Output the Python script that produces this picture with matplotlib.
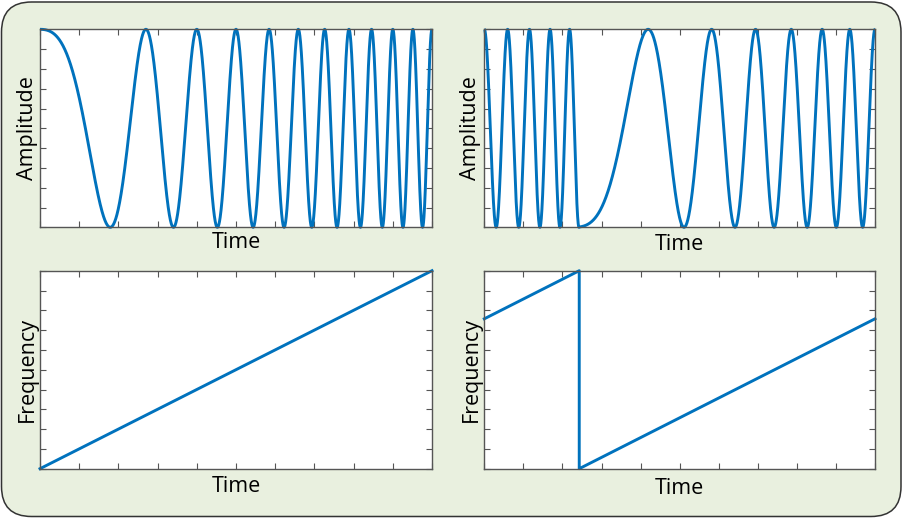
import numpy as np
import matplotlib
matplotlib.use("Agg")
import matplotlib.pyplot as plt
from matplotlib.patches import FancyBboxPatch

# ---- data ----
# frequency sweep (arbitrary units): linear chirp from f_low to f_high over time 0..1
f_low = 1.0
f_high = 21.0
t_reset = 0.243          # time at which the right-hand sweep wraps back to f_low

# left column: plain linear sweep
left_time = [0.0, 1.0]
left_freq = [1.0, 21.0]

# right column: the same sweep, frequency-wrapped
right_time = [0.0, 0.243, 0.243, 1.0]
right_freq = [16.14, 21.0, 1.0, 16.14]

x_label = "Time"
amp_label = "Amplitude"
freq_label = "Frequency"

line_color = "#0072BD"
spine_color = "#555555"
bg_color = "#E9F0DF"


def chirp_from_freq(times, freqs, n=6001):
    """cos(2*pi*integral f dt), phase accumulated segment by segment (exact for linear f)."""
    ts, ys = [], []
    phase = 0.0
    for i in range(len(times) - 1):
        t0, t1 = times[i], times[i + 1]
        f0, f1 = freqs[i], freqs[i + 1]
        if t1 <= t0:
            continue
        m = max(int(n * (t1 - t0)), 2)
        tt = np.linspace(t0, t1, m)
        slope = (f1 - f0) / (t1 - t0)
        ph = phase + f0 * (tt - t0) + 0.5 * slope * (tt - t0) ** 2
        ts.append(tt)
        ys.append(np.cos(2 * np.pi * ph))
        phase = ph[-1]
    return np.concatenate(ts), np.concatenate(ys)


plt.rcParams['font.family'] = ['Open Sans', 'DejaVu Sans']

W, H = 903, 518
fig = plt.figure(figsize=(W / 100, H / 100), dpi=100)
fig.patch.set_facecolor("white")

# rounded background panel (coordinates in inches = px/100)
bg = FancyBboxPatch((0.015, 0.015), (W - 3.5) / 100, (H - 3.5) / 100,
                    boxstyle="round,pad=0,rounding_size=0.30",
                    transform=fig.dpi_scale_trans, facecolor=bg_color,
                    edgecolor="#333333", linewidth=1.1, zorder=-5)
fig.patches.append(bg)


def px_axes(x0, y0, x1, y1):
    return fig.add_axes([x0 / W, (H - y1) / H, (x1 - x0) / W, (y1 - y0) / H])


axes_px = {
    "tl": (40, 29.3, 432, 227.3),
    "tr": (484.3, 29.3, 875, 227.3),
    "bl": (40, 270.7, 432, 468.7),
    "br": (484.3, 270.7, 875, 468.7),
}

FS = 15.5


def style(ax, xlab_base_px, ylab_base_px, ylabel, box):
    x0, y0, x1, y1 = box
    ax.set_facecolor("white")
    for s in ax.spines.values():
        s.set_color(spine_color)
        s.set_linewidth(1.0)
    ax.set_xlim(0, 1)
    ax.set_xticks(np.linspace(0, 1, 11))
    ax.tick_params(axis="both", which="both", direction="in", length=4,
                   width=0.8, color=spine_color, top=True, right=True,
                   labelbottom=False, labelleft=False)
    ax.set_xlabel(x_label, fontsize=FS, color="black")
    ax.xaxis.set_label_coords(0.5, (y1 - xlab_base_px) / (y1 - y0))
    ax.xaxis.label.set_verticalalignment("baseline")
    ax.set_ylabel(ylabel, fontsize=FS, color="black")
    ax.yaxis.set_label_coords((ylab_base_px - x0) / (x1 - x0), 0.5)
    ax.yaxis.label.set_verticalalignment("baseline")


# top-left amplitude
ax = px_axes(*axes_px["tl"])
t, y = chirp_from_freq(left_time, left_freq)
ax.plot(t, y, color=line_color, lw=2.1, clip_on=False, solid_capstyle="butt")
ax.set_ylim(-1, 1)
ax.set_yticks(np.linspace(-1, 1, 11))
style(ax, 248.3, 32.7, amp_label, axes_px["tl"])

# top-right amplitude
ax = px_axes(*axes_px["tr"])
t, y = chirp_from_freq(right_time, right_freq)
ax.plot(t, y, color=line_color, lw=2.1, clip_on=False, solid_capstyle="butt")
ax.set_ylim(-1, 1)
ax.set_yticks(np.linspace(-1, 1, 11))
style(ax, 250.5, 476.5, amp_label, axes_px["tr"])

# bottom-left frequency
ax = px_axes(*axes_px["bl"])
ax.plot(left_time, left_freq, color=line_color, lw=2.1, clip_on=False)
ax.set_ylim(f_low, f_high)
ax.set_yticks(np.linspace(f_low, f_high, 11))
style(ax, 492.3, 32.7, freq_label, axes_px["bl"])

# bottom-right frequency
ax = px_axes(*axes_px["br"])
ax.plot(right_time, right_freq, color=line_color, lw=2.1, clip_on=False)
ax.set_ylim(f_low, f_high)
ax.set_yticks(np.linspace(f_low, f_high, 11))
style(ax, 493.5, 476.5, freq_label, axes_px["br"])

fig.savefig("out.png", dpi=100, facecolor="white")
